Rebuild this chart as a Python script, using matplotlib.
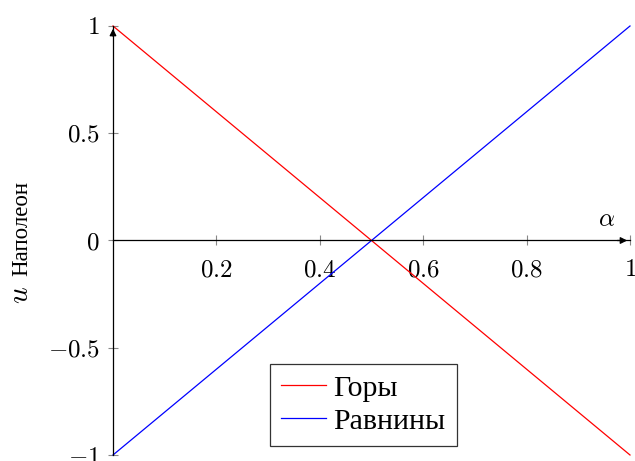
import matplotlib
matplotlib.use("Agg")
import matplotlib.pyplot as plt
import numpy as np

plt.rcParams['mathtext.fontset'] = 'cm'
plt.rcParams['font.family'] = ['Liberation Serif', 'DejaVu Serif']

alpha = [0.0, 1.0]
gory = [1.0, -1.0]
ravniny = [-1.0, 1.0]
series_names = ["Горы", "Равнины"]
xticks = [0.2, 0.4, 0.6, 0.8, 1.0]
xticklabels = ["0.2", "0.4", "0.6", "0.8", "1"]
yticks = [-1.0, -0.5, 0.0, 0.5, 1.0]
yticklabels = ["\u22121", "\u22120.5", "0", "0.5", "1"]

fig = plt.figure(figsize=(6.35, 4.61), dpi=100)
ax = fig.add_axes([113/635, 6/461, 517/635, 429/461])
ax.plot(alpha, gory, color='red', lw=0.9, label=series_names[0], clip_on=False)
ax.plot(alpha, ravniny, color='blue', lw=0.9, label=series_names[1], clip_on=False)
ax.set_xlim(0, 1)
ax.set_ylim(-1, 1)

ax.spines['left'].set_position(('data', 0))
ax.spines['bottom'].set_position(('data', 0))
ax.spines['right'].set_visible(False)
ax.spines['top'].set_visible(False)
for s in ['left', 'bottom']:
    ax.spines[s].set_linewidth(0.9)

ax.set_xticks(xticks)
ax.set_xticklabels(['$%s$' % t for t in xticklabels], fontsize=18)
ax.set_yticks(yticks)
ax.set_yticklabels(['$%s$' % t.replace('\u2212', '-') for t in yticklabels], fontsize=18)
ax.tick_params(direction='inout', length=7, width=0.8, color='#888888', pad=6)
ax.tick_params(axis='x', pad=10)

# arrows
ax.annotate('', xy=(1.0, 0), xytext=(0.97, 0), xycoords=('axes fraction', 'data'),
            arrowprops=dict(arrowstyle='-|>', color='black', lw=0.9, mutation_scale=10), annotation_clip=False)
ax.annotate('', xy=(0, 1.0), xytext=(0, 0.97), xycoords=('data', 'axes fraction'),
            arrowprops=dict(arrowstyle='-|>', color='black', lw=0.9, mutation_scale=10), annotation_clip=False)

ax.text(0.955, 0.095, r'$\alpha$', fontsize=18, ha='center', va='center')

fig.text(21/635, 1 - 295/461, r'$u$', rotation=90, fontsize=21, ha='center', va='center')
fig.text(22/635, 1 - 228/461, 'Наполеон', rotation=90, fontsize=16.5, ha='center', va='center')

leg = ax.legend(loc='lower center', bbox_to_anchor=(363.5/635, 15/461), bbox_transform=fig.transFigure,
                fontsize=21.5, frameon=True, fancybox=False, edgecolor='black', handlelength=1.5,
                handletextpad=0.25, borderpad=0.38, labelspacing=0.2, borderaxespad=0)
leg.get_frame().set_linewidth(0.9)

fig.savefig('out.png', dpi=100)
